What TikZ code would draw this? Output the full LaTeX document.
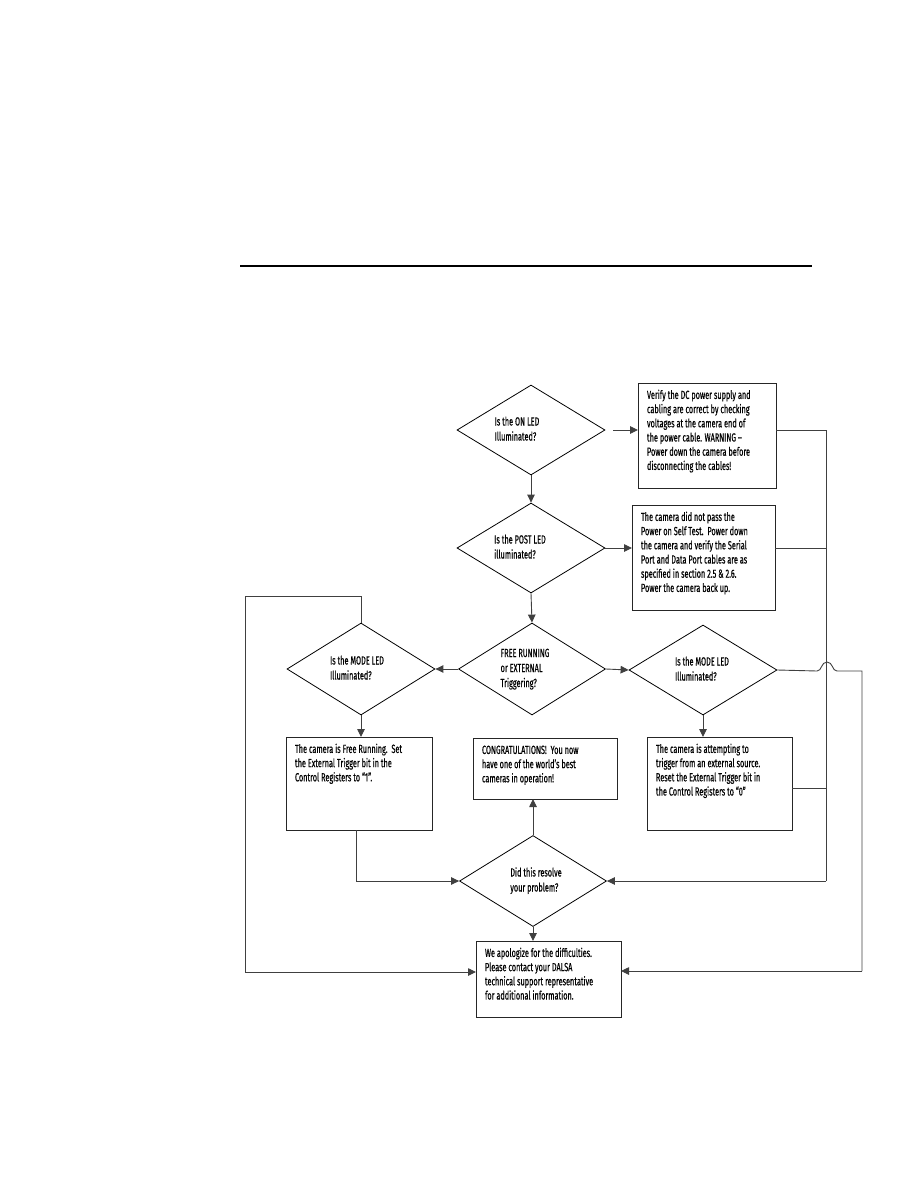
\documentclass[tikz,border=0pt]{standalone}
\usepackage{fontspec}
\setmainfont{Fira Sans}[FakeStretch=0.62,FakeBold=0.4]
\usetikzlibrary{shapes.geometric,arrows.meta,calc}
\newcommand{\bx}[3]{\parbox[c][#2][t]{#1}{\begin{tabular}[t]{@{}l@{}}#3\end{tabular}}}
\newcommand{\dtx}[2]{\makebox[0pt]{\kern#1\kern#1\begin{tabular}{@{}l@{}}#2\end{tabular}}}
\begin{document}
\begin{tikzpicture}[x=1pt,y=-1pt,
  every node/.style={font=\fontsize{11.8}{14.2}\selectfont},
  dia/.style={draw=black, line width=0.8pt, diamond, aspect=1.6, inner sep=0pt, font=\fontsize{11.8}{15}\selectfont},
  boxst/.style={draw=black!85, line width=0.9pt, inner xsep=9pt, inner ysep=6pt, outer sep=0pt},
  conn/.style={draw=black!75, line width=0.9pt},
  arr/.style={conn, -{Triangle[length=8pt,width=7.5pt]}}
]
\useasboundingbox (0,0) rectangle (918,1188);
\draw[line width=1.2pt] (240,266) -- (812,266);

% decisions
\node[dia, minimum width=148pt, minimum height=90pt] (D1) at (531,430) {\dtx{-14pt}{Is the ON LED\\Illuminated?}};
\node[dia, minimum width=148pt, minimum height=90pt] (D2) at (531,548) {\dtx{-11pt}{Is the POST LED\\illuminated?}};
\node[dia, minimum width=147pt, minimum height=92pt] (D3) at (532,669) {\dtx{-7pt}{FREE RUNNING\\or EXTERNAL\\Triggering?}};
\node[dia, minimum width=148pt, minimum height=92pt] (DL) at (361,669) {\dtx{-4pt}{Is the MODE LED\\Illuminated?}};
\node[dia, minimum width=148pt, minimum height=90pt] (DR) at (703,670) {\dtx{-1pt}{Is the MODE LED\\Illuminated?}};
\node[dia, minimum width=147pt, minimum height=91pt] (DS) at (533,881) {\dtx{3pt}{Did this resolve\\your problem?}};

% boxes
\node[boxst] (B1) at (707,435.5) {\bx{120pt}{93pt}{Verify the DC power supply and\\cabling are correct by checking\\voltages at the camera end of\\the power cable. WARNING --\\Power down the camera before\\disconnecting the cables!}};
\node[boxst] (B2) at (703.5,557.5) {\bx{125pt}{93pt}{The camera did not pass the\\Power on Self Test.\ \ Power down\\the camera and verify the Serial\\Port and Data Port cables are as\\specified in section 2.5 \& 2.6.\\Power the camera back up.}};
\node[boxst] (BL) at (359,783.5) {\bx{128pt}{81pt}{The camera is Free Running.\ \ Set\\the External Trigger bit in the\\Control Registers to “1”.}};
\node[boxst] (BC) at (545,768.5) {\bx{126pt}{49pt}{CONGRATULATIONS!\ \ You now\\have one of the world’s best\\cameras in operation!}};
\node[boxst] (BR) at (719.5,783.5) {\bx{127pt}{81pt}{The camera is attempting to\\trigger from an external source.\\Reset the External Trigger bit in\\the Control Registers to “0”}};
\node[boxst] (BA) at (548.5,979) {\bx{127pt}{64pt}{We apologize for the difficulties.\\Please contact your DALSA\\technical support representative\\for additional information.}};

% helper coordinates
\coordinate (bt) at (826,430);
\coordinate (bb) at (826,881);
\coordinate (lt) at (245,596);
\coordinate (lb) at (245,972);
\coordinate (rt) at (862,671);
\coordinate (rb) at (862,971);
\coordinate (h1) at (817,671);
\coordinate (h2) at (837,671);

% connectors
\draw[arr] ([xshift=8pt]D1.east) -- (D1.east -| B1.west);
\draw[arr] (D1.south) -- (D2.north);
\draw[arr] (D2.east) -- (D2.east -| B2.west);
\draw[arr] (D2.south) -- (D3.north);
\draw[arr] (D3.west) -- (DL.east);
\draw[arr] (D3.east) -- (DR.west);
\draw[arr] (DL.south) -- (DL.south |- BL.north);
\draw[arr] (DR.south) -- (DR.south |- BR.north);
\draw[arr] (DL.north) |- (lt) -- (lb) -- (lb -| BA.west);
\draw[arr] ([xshift=-3pt]BL.south) |- (DS.west);
\draw[arr] (DS.north) -- (DS.north |- BC.south);
\draw[arr] (DS.south) -- (DS.south |- BA.north);
\draw[conn] (B1.east |- D1.east) -- (bt) -- (bb);
\draw[arr] (bb) -- (DS.east);
\draw[conn] (B2.east |- D2.east) -- (D2.east -| bt);
\draw[conn] ([yshift=-4.5pt]BR.east) -- ([yshift=-4.5pt]BR.east -| bt);
\draw[conn] (DR.east) -- (h1) .. controls (822,671) and (821,662) .. (827,662) .. controls (833,662) and (832,671) .. (h2) -- (rt) -- (rb);
\draw[arr] (rb) -- (rb -| BA.east);
\end{tikzpicture}
\end{document}
